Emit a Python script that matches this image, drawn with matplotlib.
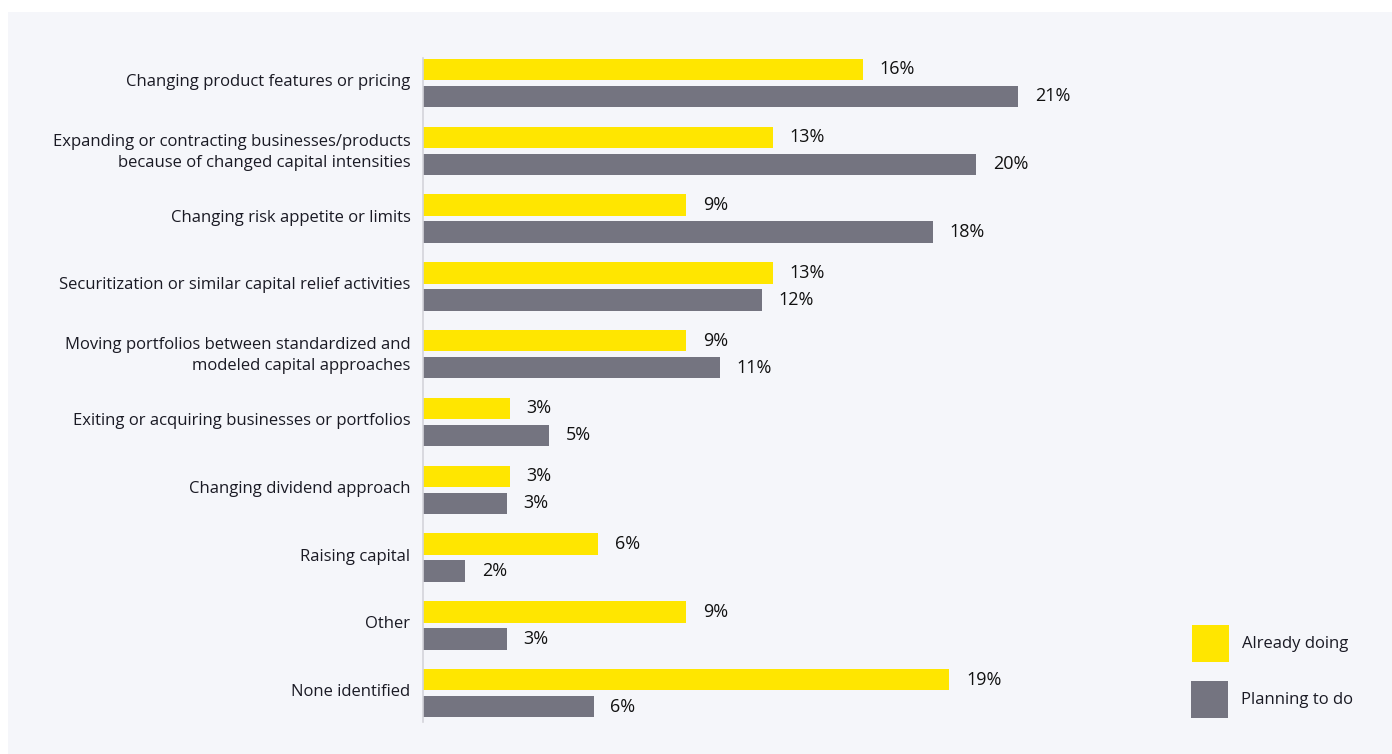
import matplotlib
matplotlib.use("Agg")
import matplotlib.pyplot as plt
from matplotlib.patches import Rectangle
import matplotlib.transforms as mtransforms
import numpy as np

categories = [
    "Changing product features or pricing",
    "Expanding or contracting businesses/products\nbecause of changed capital intensities",
    "Changing risk appetite or limits",
    "Securitization or similar capital relief activities",
    "Moving portfolios between standardized and\nmodeled capital approaches",
    "Exiting or acquiring businesses or portfolios",
    "Changing dividend approach",
    "Raising capital",
    "Other",
    "None identified",
]
already_doing = [15.7, 12.5, 9.4, 12.5, 9.4, 3.1, 3.1, 6.25, 9.4, 18.8]
planning_to_do = [21.25, 19.75, 18.2, 12.1, 10.6, 4.5, 3.0, 1.5, 3.0, 6.1]
already_labels = ["16%", "13%", "9%", "13%", "9%", "3%", "3%", "6%", "9%", "19%"]
planning_labels = ["21%", "20%", "18%", "12%", "11%", "5%", "3%", "2%", "3%", "6%"]
series_names = ["Already doing", "Planning to do"]

YELLOW = "#ffe600"
GRAY = "#747480"
PANEL = "#f5f6fa"
TEXT = "#1a1a24"

plt.rcParams["font.family"] = ["Open Sans", "DejaVu Sans"]

W, H = 1392, 754
fig = plt.figure(figsize=(W / 100, H / 100), dpi=100, facecolor="white")
fig.patches.append(Rectangle((8 / W, 0), 1 - 8 / W, 1 - 12 / H,
                             transform=fig.transFigure, facecolor=PANEL,
                             edgecolor="none", zorder=-10))

ax_left, ax_top, ax_bottom, ax_right = 423, 58, 722, 1100
ax = fig.add_axes([ax_left / W, 1 - ax_bottom / H,
                   (ax_right - ax_left) / W, (ax_bottom - ax_top) / H])
ax.set_facecolor("none")

pitch = 67.8
y = np.arange(len(categories))
off = 13.5 / pitch
bh = 21.5 / pitch
ax.barh(y - off, already_doing, height=bh, color=YELLOW, label=series_names[0])
ax.barh(y + off, planning_to_do, height=bh, color=GRAY, label=series_names[1])

for yi, v, lab in zip(y, already_doing, already_labels):
    ax.annotate(lab, (v, yi - off), xytext=(12, 0), textcoords="offset points",
                va="center", ha="left", fontsize=13, color="#111111")
for yi, v, lab in zip(y, planning_to_do, planning_labels):
    ax.annotate(lab, (v, yi + off), xytext=(12, 0), textcoords="offset points",
                va="center", ha="left", fontsize=13, color="#111111")

ax.set_xlim(0, (ax_right - ax_left) / 28.0)
ax.set_ylim((ax_bottom - 83) / pitch, (ax_top - 83) / pitch)
ax.set_yticks(y)
ax.set_yticklabels(categories, fontsize=12, color=TEXT, linespacing=1.4)
ax.tick_params(axis="y", length=0, pad=9)
shift = mtransforms.ScaledTranslation(0, 3 / 100, fig.dpi_scale_trans)
for t in ax.get_yticklabels():
    t.set_transform(t.get_transform() + shift)
ax.set_xticks([])
for s in ["top", "right", "bottom"]:
    ax.spines[s].set_visible(False)
ax.spines["left"].set_color("#d4d4da")
ax.spines["left"].set_linewidth(1.2)

# legend
for (x0, y0), col, name in [((1192, 625), YELLOW, series_names[0]),
                            ((1191, 681), GRAY, series_names[1])]:
    fig.patches.append(Rectangle((x0 / W, 1 - (y0 + 37) / H), 37 / W, 37 / H,
                                 transform=fig.transFigure, facecolor=col,
                                 edgecolor="none"))
    fig.text((x0 + 50) / W, 1 - (y0 + 18.5) / H, name, fontsize=12,
             color=TEXT, va="center", ha="left")

fig.savefig("out.png", dpi=100, facecolor="white")
